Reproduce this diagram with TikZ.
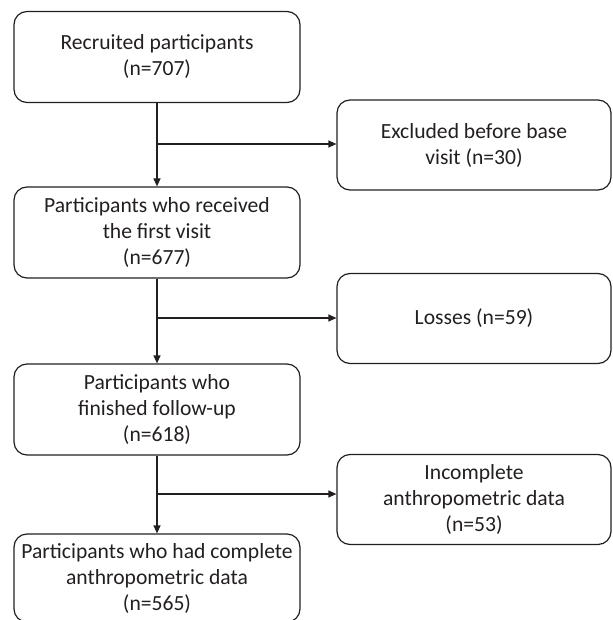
\documentclass[tikz,border=0pt]{standalone}
\usepackage{fontspec}
\setmainfont{Carlito}
\usetikzlibrary{arrows.meta}
\definecolor{ink}{HTML}{231F20}
\begin{document}
\begin{tikzpicture}[x=1pt, y=-1pt, >={Triangle[length=8pt,width=7pt]}, line join=round,
	font=\fontsize{21.6}{26}\selectfont,
	box/.style={draw=ink, line width=1.2pt, rounded corners=13pt, align=center, inner sep=0pt, text=ink},
	mainbox/.style={box, minimum width=286pt, minimum height=91pt},
	sidebox/.style={box, minimum width=274pt, minimum height=90pt},
	link/.style={draw=ink, line width=1.2pt}]
	\def\colx{157}
	\def\sidex{474}
	\useasboundingbox (0,0) rectangle (612,620);
	% main column
	\node [mainbox] (recruit) at (\colx,57) {Recruited participants\\(n=707)};
	\node [mainbox] (visit) at (\colx,232.5) {Participants who received\\the first visit\\(n=677)};
	\node [mainbox] (finish) at (\colx,409.5) {Participants who\\finished follow-up\\(n=618)};
	\node [mainbox, minimum height=88pt] (complete) at (\colx,578) {Participants who had complete\\anthropometric data\\(n=565)};
	% side boxes
	\node [sidebox] (excl) at (\sidex,145) {Excluded before base\\visit (n=30)};
	\node [sidebox] (loss) at (\sidex,318.5) {Losses (n=59)};
	\node [sidebox] (incomp) at (\sidex,499.5) {Incomplete\\anthropometric data\\(n=53)};
	% connectors
	\coordinate (split1) at (\colx,144);
	\coordinate (split2) at (\colx,318);
	\coordinate (split3) at (\colx,494);
	\draw [link, ->] (recruit) -- (visit);
	\draw [link, ->] (visit) -- (finish);
	\draw [link, ->] (finish) -- (complete);
	\draw [link, ->] (split1) -- (split1 -| excl.west);
	\draw [link, ->] (split2) -- (split2 -| loss.west);
	\draw [link, ->] (split3) -- (split3 -| incomp.west);
\end{tikzpicture}
\end{document}
